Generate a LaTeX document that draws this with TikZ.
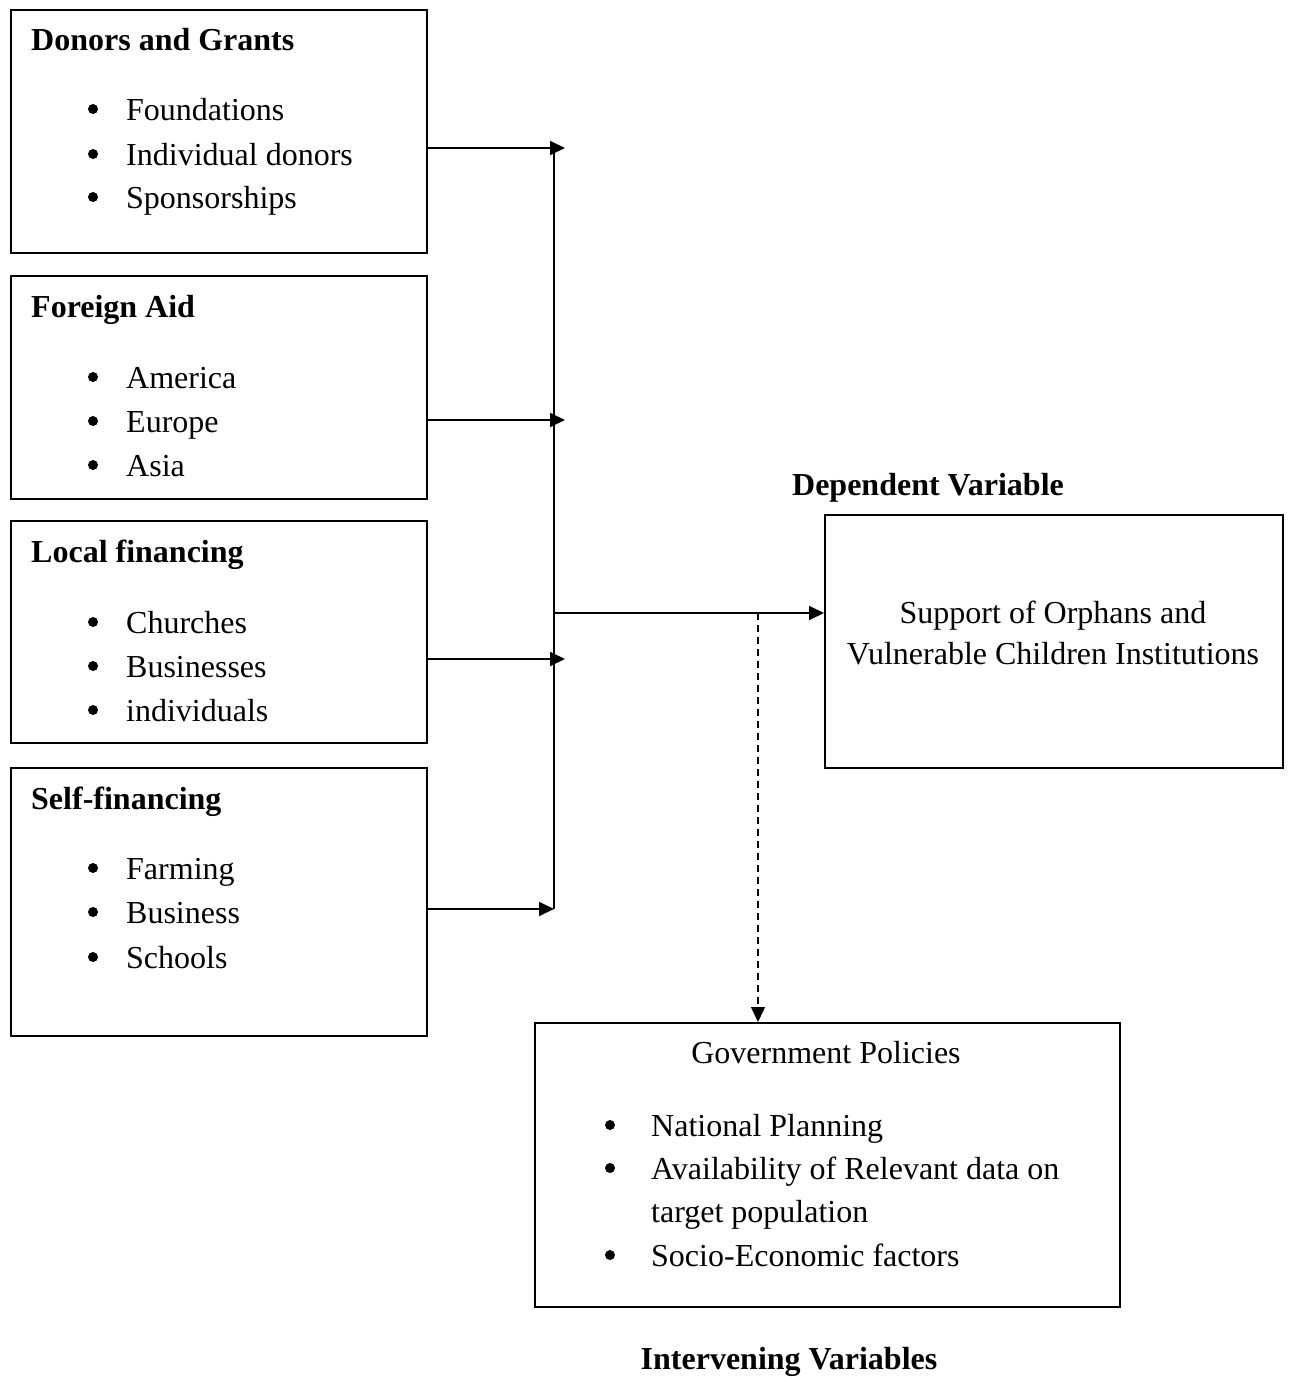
\documentclass[tikz,border=0pt]{standalone}
\usepackage{fontspec}
\setmainfont{Liberation Serif}
\usetikzlibrary{arrows.meta}
\begin{document}
\begin{tikzpicture}[x=1pt,y=-1pt,
  box/.style={draw,line width=1.8pt,rectangle,inner sep=0pt,anchor=north west},
  txt/.style={anchor=base west,inner sep=0pt,font=\fontsize{32}{38}\selectfont},
  ttl/.style={txt,font=\fontsize{32}{38}\selectfont\bfseries},
  bul/.style={circle,fill,inner sep=0pt,minimum size=10pt},
  conn/.style={line width=1.8pt},
  arr/.style={conn,-{Triangle[length=15pt,width=14pt]}}]
\useasboundingbox (0,0) rectangle (1290,1377);
% boxes
\node[box,minimum width=416pt,minimum height=243pt] (b1) at (10,9) {};
\node[box,minimum width=416pt,minimum height=223pt] (b2) at (10,275) {};
\node[box,minimum width=416pt,minimum height=222pt] (b3) at (10,520) {};
\node[box,minimum width=416pt,minimum height=268pt] (b4) at (10,767) {};
\node[box,minimum width=458pt,minimum height=253pt] (dep) at (824,514) {};
\node[box,minimum width=585pt,minimum height=284pt] (gov) at (534,1022) {};
% box 1
\node[ttl] (t1) at (31,50) {Donors and Grants};
\node[bul] (t1a) at (93,109) {}; \node[txt] (t1b) at (126,120) {Foundations};
\node[bul] (t1c) at (93,154) {}; \node[txt] (t1d) at (126,165) {Individual donors};
\node[bul] (t1e) at (93,197) {}; \node[txt] (t1f) at (126,208) {Sponsorships};
% box 2
\node[ttl] (t2) at (31,317) {Foreign Aid};
\node[bul] (t2a) at (93,377) {}; \node[txt] (t2b) at (126,388) {America};
\node[bul] (t2c) at (93,421) {}; \node[txt] (t2d) at (126,432) {Europe};
\node[bul] (t2e) at (93,465) {}; \node[txt] (t2f) at (126,476) {Asia};
% box 3
\node[ttl] (t3) at (31,562) {Local financing};
\node[bul] (t3a) at (93,622) {}; \node[txt] (t3b) at (126,633) {Churches};
\node[bul] (t3c) at (93,666) {}; \node[txt] (t3d) at (126,677) {Businesses};
\node[bul] (t3e) at (93,710) {}; \node[txt] (t3f) at (126,721) {individuals};
% box 4
\node[ttl] (t4) at (31,809) {Self-financing};
\node[bul] (t4a) at (93,868) {}; \node[txt] (t4b) at (126,879) {Farming};
\node[bul] (t4c) at (93,912) {}; \node[txt] (t4d) at (126,923) {Business};
\node[bul] (t4e) at (93,957) {}; \node[txt] (t4f) at (126,968) {Schools};
% dependent
\node[ttl,anchor=base] (dl) at (928,495) {Dependent Variable};
\node[txt,anchor=base] (d1) at (1053,623) {Support of Orphans and};
\node[txt,anchor=base] (d2) at (1053,664) {Vulnerable Children Institutions};
% government
\node[txt,anchor=base] (g0) at (826,1063) {Government Policies};
\node[bul] (g1a) at (610,1125) {}; \node[txt] (g1b) at (651,1136) {National Planning};
\node[bul] (g2a) at (610,1168) {}; \node[txt] (g2b) at (651,1179) {Availability of Relevant data on};
\node[txt] (g2c) at (651,1222) {target population};
\node[bul] (g3a) at (610,1255) {}; \node[txt] (g3b) at (651,1266) {Socio-Economic factors};
\node[ttl,anchor=base] (il) at (789,1369) {Intervening Variables};
% connectors
\coordinate (v1) at (554,148);
\coordinate (v4) at (554,909);
\coordinate (vm) at (554,613);
\coordinate (dm) at (758,613);
\coordinate (e1) at (565,148);
\coordinate (e2) at (565,420);
\coordinate (e3) at (565,659);
\draw[arr] (b1.east |- e1) -- (e1);
\draw[arr] (b2.east |- e2) -- (e2);
\draw[arr] (b3.east |- e3) -- (e3);
\draw[arr] (b4.east |- v4) -- (v4);
\draw[conn] (v1) -- (v4);
\draw[arr] (vm) -- (dep.west |- vm);
\draw[arr,line width=1.4pt,dash pattern=on 7pt off 5pt] (dm) -- (dm |- gov.north);
\end{tikzpicture}
\end{document}
